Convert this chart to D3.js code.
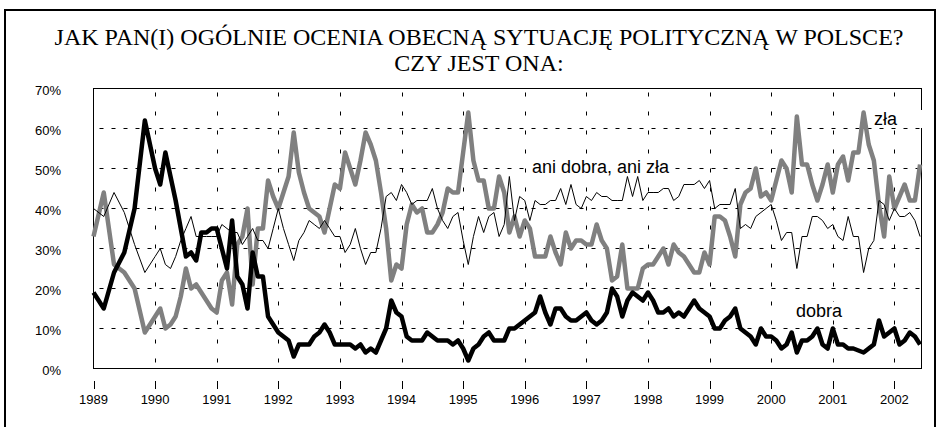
<!DOCTYPE html>
<html><head><meta charset="utf-8">
<script src="https://cdn.jsdelivr.net/npm/d3@7"></script>
<style>body{margin:0;background:#fff}svg{display:block}</style>
</head><body>
<svg id="chart" width="939" height="427"></svg>
<script>
const titleLines = ["JAK PAN(I) OGÓLNIE OCENIA OBECNĄ SYTUACJĘ POLITYCZNĄ W POLSCE?", "CZY JEST ONA:"];
const dates = [
 "1989-01","1989-03","1989-05","1989-07","1989-09","1989-11",
 "1990-01","1990-02","1990-03","1990-04","1990-05","1990-06","1990-07","1990-08","1990-09","1990-10","1990-11","1990-12",
 "1991-01","1991-02","1991-03","1991-04","1991-05","1991-06","1991-07","1991-08","1991-09","1991-10","1991-11","1991-12",
 "1992-01","1992-02","1992-03","1992-04","1992-05","1992-06","1992-07","1992-08","1992-09","1992-10","1992-11","1992-12",
 "1993-01","1993-02","1993-03","1993-04","1993-05","1993-06","1993-07","1993-08","1993-09","1993-10","1993-11","1993-12",
 "1994-01","1994-02","1994-03","1994-04","1994-05","1994-06","1994-07","1994-08","1994-09","1994-10","1994-11","1994-12",
 "1995-01","1995-02","1995-03","1995-04","1995-05","1995-06","1995-07","1995-08","1995-09","1995-10","1995-11","1995-12",
 "1996-01","1996-02","1996-03","1996-04","1996-05","1996-06","1996-07","1996-08","1996-09","1996-10","1996-11","1996-12",
 "1997-01","1997-02","1997-03","1997-04","1997-05","1997-06","1997-07","1997-08","1997-09","1997-10","1997-11","1997-12",
 "1998-01","1998-02","1998-03","1998-04","1998-05","1998-06","1998-07","1998-08","1998-09","1998-10","1998-11","1998-12",
 "1999-01","1999-02","1999-03","1999-04","1999-05","1999-06","1999-07","1999-08","1999-09","1999-10","1999-11","1999-12",
 "2000-01","2000-02","2000-03","2000-04","2000-05","2000-06","2000-07","2000-08","2000-09","2000-10","2000-11","2000-12",
 "2001-01","2001-02","2001-03","2001-04","2001-05","2001-06","2001-07","2001-08","2001-09","2001-10","2001-11","2001-12",
 "2002-01","2002-02","2002-03","2002-04","2002-05","2002-06"
];
const dobra = [19,15,24,29,40,62,
 50,46,54,48,42,35,28,29,27,34,34,35,
 35,30,25,37,23,21,15,29,23,23,13,11,
 9,8,7,3,6,6,6,8,9,11,9,6,
 6,6,6,5,6,4,5,4,7,10,17,14,
 13,8,7,7,7,9,8,7,7,7,6,7,
 5,2,5,6,8,9,7,7,7,10,10,11,
 12,13,14,18,14,11,15,15,13,12,12,13,
 14,12,11,12,14,20,18,13,17,19,18,17,
 19,17,14,14,15,13,14,13,15,17,15,14,
 13,10,10,12,13,15,10,9,8,6,10,8,
 8,7,5,6,9,4,7,7,8,10,6,5,
 10,6,6,5,5,4.5,4,5,6,12,8,9,
 10,6,7,9,8,6];
const zla = [33,44,26,24,20,9,
 13,15,10,11,13,18,25,20,21,19,17,15,
 14,22,24,16,31,33,40,21,35,35,47,43,
 40,44,48,59,49,44,40,39,38,34,40,46,
 45,54,50,46,52,59,56,52,44,35,22,26,
 25,36,41,39,40,34,34,36,39,45,44,44,
 54,64,52,47,47,40,40,48,44,34,38,33,
 37,35,28,28,28,33,29,26,34,30,32,32,
 31,31,36,32,30,22,23,31,20,20,20,25,
 26,26,28,30,26,31,29,28,26,24,24,29,
 26,38,38,37,33,28,41,44,45,50,43,44,
 42,47,52,50,44,63,51,51,46,42,46,51,
 44,51,53,47,54,54,64,56,52,41,33,48,
 40,43,46,42,42,51];
const aniDobraAniZla = [40,38,44,39,31,24,
 28,30,26,25,28,32,35,38,33,33,33,33,
 33,36,35,34,34,31,33,35,32,32,30,35,
 40,35,31,27,32,34,37,36,35,37,35,33,
 33,29,31,35,30,26,29,29,35,43,44,42,
 46,44,41,42,42,42,45,40,37,35,38,39,
 32,26,33,38,34,38,39,33,36,48,37,43,
 42,37,42,41,41,42,42,45,41,46,41,40,
 43,42,44,43,43,42,42,42,48,43,48,42,
 44,44,44,45,45,42,43,46,46,46,47,45,
 47,40,41,41,41,45,35,36,35,38,39,40,
 41,37,32,34,34,25,33,33,38,38,37,35,
 36,33,32,38,33,33,24,30,32,42,41,37,
 40,38,38,39,37,33];
const yTicks = [0,10,20,30,40,50,60,70];
const yearTicks = [1989,1990,1991,1992,1993,1994,1995,1996,1997,1998,1999,2000,2001,2002];
const labelDobra = "dobra", labelZla = "zła", labelAni = "ani dobra, ani zła";

const svg = d3.select("#chart");
const sans = "'Liberation Sans', Arial, sans-serif";
const serif = "'Liberation Serif', 'Times New Roman', serif";
const L = 93.5, R = 921.5, T = 88.5, B = 368.5;
const x = d3.scaleLinear().domain([1989, 2002.44]).range([L, R]);
const y = d3.scaleLinear().domain([0, 70]).range([B, T]);
const t = s => { const p = s.split("-").map(Number); return p[0] + (p[1] - 1) / 12; };

svg.append("rect").attr("width", 939).attr("height", 427).attr("fill", "#fff");
svg.append("rect").attr("x", 5).attr("y", 10).attr("width", 930).attr("height", 440)
  .attr("fill", "none").attr("stroke", "#000").attr("stroke-width", 2);

svg.append("g").selectAll("text").data(titleLines).join("text")
  .attr("x", 479).attr("y", (d, i) => 45 + i * 25.5).attr("text-anchor", "middle")
  .attr("font-family", serif).attr("font-size", 24).attr("fill", "#000").text(d => d);

svg.append("g").selectAll("line").data(yTicks.filter(v => v > 0 && v < 70)).join("line")
  .attr("x1", L).attr("x2", R).attr("y1", d => y(d)).attr("y2", d => y(d))
  .attr("stroke", "#000").attr("stroke-width", 1).attr("stroke-dasharray", "4,8").attr("stroke-dashoffset", -6);
svg.append("g").selectAll("line").data(yearTicks.filter(v => v > 1989)).join("line")
  .attr("x1", d => Math.round(x(d)) + 0.5).attr("x2", d => Math.round(x(d)) + 0.5).attr("y1", T).attr("y2", B)
  .attr("stroke", "#000").attr("stroke-width", 1).attr("stroke-dasharray", "4,15").attr("stroke-dashoffset", -4);

svg.append("rect").attr("x", L).attr("y", T).attr("width", R - L).attr("height", B - T)
  .attr("fill", "none").attr("stroke", "#000").attr("stroke-width", 1);

svg.append("g").selectAll("text").data(yTicks).join("text")
  .attr("x", 61).attr("y", d => y(d) + 6.5).attr("text-anchor", "end")
  .attr("font-family", sans).attr("font-size", 13).text(d => d + "%");

svg.append("g").selectAll("line").data(yearTicks).join("line")
  .attr("x1", d => Math.round(x(d)) + 0.5).attr("x2", d => Math.round(x(d)) + 0.5)
  .attr("y1", 381).attr("y2", 389).attr("stroke", "#000").attr("stroke-width", 1);
svg.append("g").selectAll("text").data(yearTicks).join("text")
  .attr("x", d => x(d)).attr("y", 404).attr("text-anchor", "middle")
  .attr("font-family", sans).attr("font-size", 13).text(d => d);

const labels = [
  { text: labelAni, x: 532, y: 173 },
  { text: labelDobra, x: 796, y: 317 },
  { text: labelZla, x: 874, y: 125 }
];
const lg = svg.append("g");
labels.forEach(l => {
  const tx = lg.append("text").attr("x", l.x).attr("y", l.y)
    .attr("font-family", sans).attr("font-size", 18).text(l.text);
  const bb = tx.node().getBBox();
  const w = l.text === labelZla ? (934 - bb.x + 1) : bb.width + 4;
  lg.insert("rect", "text").attr("x", bb.x - 2).attr("y", bb.y + 1).attr("width", w).attr("height", bb.height - 2).attr("fill", "#fff");
});

const line = d3.line().x(d => x(d.t)).y(d => y(d.v));
const mk = arr => dates.map((d, i) => ({ t: t(d), v: arr[i] }));
svg.append("path").datum(mk(zla)).attr("d", line).attr("fill", "none")
  .attr("stroke", "#808080").attr("stroke-width", 4.5).attr("stroke-linejoin", "round");
svg.append("path").datum(mk(aniDobraAniZla)).attr("d", line).attr("fill", "none")
  .attr("stroke", "#000").attr("stroke-width", 1).attr("stroke-linejoin", "round");
svg.append("path").datum(mk(dobra)).attr("d", line).attr("fill", "none")
  .attr("stroke", "#000").attr("stroke-width", 4.5).attr("stroke-linejoin", "round");
</script>
</body></html>
